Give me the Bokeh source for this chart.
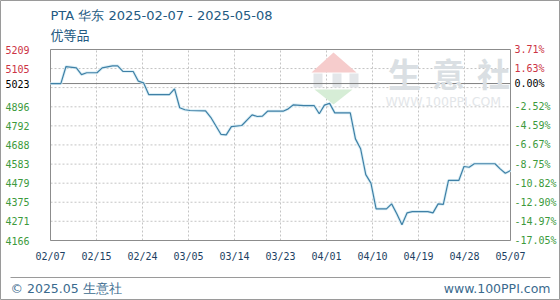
import pandas as pd
from bokeh.plotting import figure
from bokeh.models import Range1d, Label, ColumnDataSource
from bokeh.core.properties import value
from bokeh.embed import file_html
from bokeh.resources import INLINE

# ---------------- data ----------------
title_text = "PTA 华东 2025-02-07 - 2025-05-08"
subtitle_text = "优等品"
start_date = "2025-02-07"
dates = ["2025-02-07", "2025-02-09", "2025-02-10", "2025-02-12", "2025-02-13",
         "2025-02-14", "2025-02-16", "2025-02-17", "2025-02-19", "2025-02-20",
         "2025-02-21", "2025-02-23", "2025-02-24", "2025-02-25", "2025-02-26",
         "2025-03-02", "2025-03-03", "2025-03-04", "2025-03-05", "2025-03-06",
         "2025-03-09", "2025-03-10", "2025-03-12", "2025-03-13", "2025-03-14",
         "2025-03-16", "2025-03-18", "2025-03-19", "2025-03-20", "2025-03-21",
         "2025-03-24", "2025-03-25", "2025-03-26", "2025-03-28", "2025-03-30",
         "2025-03-31", "2025-04-01", "2025-04-02", "2025-04-03", "2025-04-06",
         "2025-04-07", "2025-04-08", "2025-04-09", "2025-04-10", "2025-04-11",
         "2025-04-13", "2025-04-14", "2025-04-15", "2025-04-16", "2025-04-17",
         "2025-04-18", "2025-04-21", "2025-04-22", "2025-04-23", "2025-04-24",
         "2025-04-25", "2025-04-27", "2025-04-28", "2025-04-29", "2025-04-30",
         "2025-05-04", "2025-05-05", "2025-05-06", "2025-05-07"]
prices = [5023, 5023, 5116, 5109, 5072,
          5082, 5082, 5109, 5120, 5120,
          5090, 5089, 5036, 5027, 4963,
          4963, 4994, 4891, 4880, 4876,
          4874, 4839, 4745, 4743, 4788,
          4794, 4852, 4843, 4845, 4872,
          4872, 4885, 4907, 4903, 4903,
          4858, 4905, 4915, 4863, 4863,
          4721, 4667, 4526, 4479, 4339,
          4339, 4366, 4312, 4252, 4317,
          4324, 4324, 4317, 4366, 4363,
          4494, 4494, 4570, 4566, 4585,
          4585, 4557, 4533, 4548]
base_price = 5023
grid_prices = [5209, 5105, 5001, 4896, 4792, 4688, 4583, 4479, 4375, 4271, 4166]
left_values = [5209, 5105, 5023, 4896, 4792, 4688, 4583, 4479, 4375, 4271, 4166]
left_labels = ["5209", "5105", "5023", "4896", "4792", "4688", "4583", "4479",
               "4375", "4271", "4166"]
right_labels = ["3.71%", "1.63%", "0.00%", "-2.52%", "-4.59%", "-6.67%", "-8.75%",
                "-10.82%", "-12.90%", "-14.97%", "-17.05%"]
x_tick_labels = ["02/07", "02/15", "02/24", "03/05", "03/14", "03/23", "04/01",
                 "04/10", "04/19", "04/28", "05/07"]
footer_left = "© 2025.05 生意社"
footer_right = "www.100PPI.com"
watermark_chars = ["生", "意", "社"]
watermark_url = "WWW.100PPI.COM"

# ---------------- geometry (pixels of the canvas) ----------------
W, H = 560, 300
PL, PR, PT, PB = 50, 510, 49, 240      # plot-area box

t0 = pd.Timestamp(start_date)
days = [(pd.Timestamp(d) - t0).days for d in dates]
x_end = days[-1]
y_top, y_bot = grid_prices[0], grid_prices[-1]
sx = x_end / (PR - PL)
sy = (y_top - y_bot) / (PB - PT)

p = figure(width=W, height=H, output_backend="svg", toolbar_location=None,
           x_range=Range1d(-PL * sx, x_end + (W - PR) * sx),
           y_range=Range1d(y_bot - (H - PB) * sy, y_top + PT * sy),
           min_border=0)
p.axis.visible = False
p.grid.visible = False
p.background_fill_color = "white"
p.border_fill_color = "white"
p.outline_line_color = "#9a9a9a"
p.outline_line_width = 1


def px2x(px):
    return (px - PL) * sx


def py2y(py):
    return y_top - (py - PT) * sy


n = len(x_tick_labels) - 1
xticks = [x_end * k / n for k in range(n + 1)]

# ---------------- grid ----------------
p.segment(x0=xticks, x1=xticks, y0=y_bot, y1=y_top, line_color="#c4c4c4",
          line_dash="2 2", line_width=1)
p.segment(x0=0, x1=x_end, y0=grid_prices, y1=grid_prices, line_color="#c4c4c4",
          line_dash="2 2", line_width=1)

# ---------------- watermark ----------------
p.patch([px2x(v) for v in (311, 333, 356)], [py2y(v) for v in (72, 52, 72)],
        fill_color="#f6cccc", line_color=None)
for bx in (313, 332, 349):
    p.quad(left=px2x(bx), right=px2x(bx + 9), top=py2y(73), bottom=py2y(87),
           fill_color="#e3e6e9", line_color=None)
p.patch([px2x(v) for v in (314, 352, 333)], [py2y(v) for v in (89, 89, 104)],
        fill_color="#d6edd6", line_color=None)
for cx, ch in zip((404, 448, 493), watermark_chars):
    p.add_layout(Label(x=cx, y=H - 72, x_units="screen", y_units="screen",
                       text=ch, text_font="Noto Sans CJK SC", text_font_size="33px",
                       text_font_style="bold", text_color="#dadfe3",
                       text_align="center", text_baseline="middle"))
p.add_layout(Label(x=385, y=H - 101, x_units="screen", y_units="screen",
                   text=watermark_url, text_font="DejaVu Sans", text_font_size="12.5px",
                   text_color="#e3e6e9", text_align="left", text_baseline="middle"))

# ---------------- frame, base line, series ----------------
p.quad(left=0, right=x_end, bottom=y_bot, top=y_top, fill_color=None,
       line_color="#8c8c8c", line_width=1)
p.segment(x0=0, x1=x_end, y0=base_price, y1=base_price, line_color="#808080",
          line_width=1)
src = ColumnDataSource(dict(x=days, y=prices))
p.line("x", "y", source=src, line_color="#dceff6", line_width=3)
p.line("x", "y", source=src, line_color="#3f80a6", line_width=1.2)

# ---------------- tick labels ----------------
colors = ["#cc3344" if v > base_price else ("#000000" if v == base_price else "#3c9a3c")
          for v in left_values]
lsrc = ColumnDataSource(dict(x0=[0] * len(left_values), x1=[x_end] * len(left_values),
                             y=left_values, t=left_labels, c=colors, r=right_labels))
p.text(x="x0", y="y", text="t", source=lsrc, text_color="c", x_offset=-21,
       text_align="right", text_baseline="middle",
       text_font=value("DejaVu Sans Mono"), text_font_size="10px")
p.text(x="x1", y="y", text="r", source=lsrc, text_color="c", x_offset=4,
       text_align="left", text_baseline="middle",
       text_font=value("DejaVu Sans Mono"), text_font_size="10px")
p.text(x=xticks, y=[y_bot] * len(xticks), text=x_tick_labels, y_offset=16,
       text_color="#1d3f63", text_align="center", text_baseline="middle",
       text_font=value("DejaVu Sans Mono"), text_font_size="10px")

# ---------------- titles / footer ----------------
p.add_layout(Label(x=PL, y=H - 15, x_units="screen", y_units="screen",
                   text=title_text, text_font="DejaVu Sans", text_font_size="13px",
                   text_color="#235a82", text_align="left", text_baseline="middle"))
p.add_layout(Label(x=PL, y=H - 34, x_units="screen", y_units="screen",
                   text=subtitle_text, text_font="Noto Sans CJK SC", text_font_size="13px",
                   text_color="#235a82", text_align="left", text_baseline="middle"))
p.segment(x0=px2x(10), x1=px2x(550), y0=py2y(277), y1=py2y(277),
          line_color="#9a9a9a", line_width=1)
p.add_layout(Label(x=10, y=H - 288, x_units="screen", y_units="screen",
                   text=footer_left, text_font="DejaVu Sans", text_font_size="12.5px",
                   text_color="#3a6a8e", text_align="left", text_baseline="middle"))
p.add_layout(Label(x=550, y=H - 288, x_units="screen", y_units="screen",
                   text=footer_right, text_font="DejaVu Sans", text_font_size="12.5px",
                   text_color="#3a6a8e", text_align="right", text_baseline="middle"))

open("out.html", "w").write(file_html(p, INLINE))
